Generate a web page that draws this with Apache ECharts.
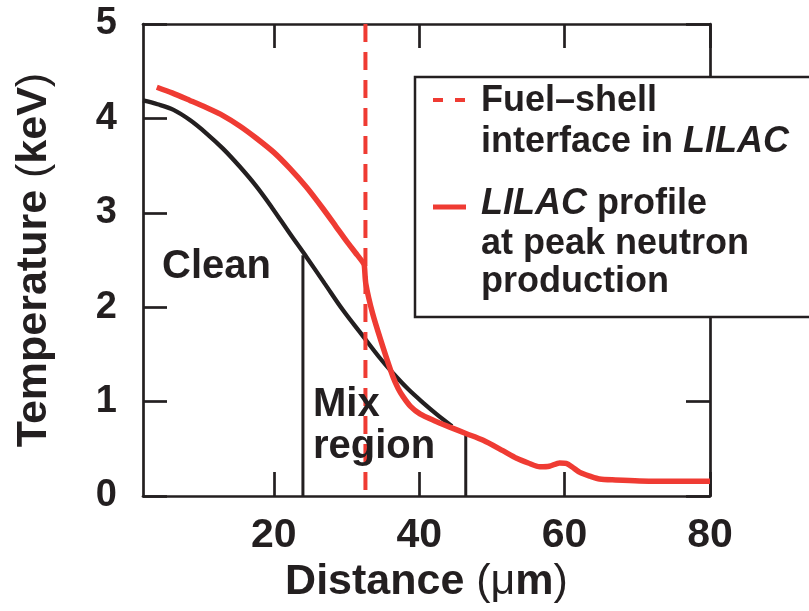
<!DOCTYPE html>
<html>
<head>
<meta charset="utf-8">
<script src="https://cdn.jsdelivr.net/npm/echarts@6/dist/echarts.min.js"></script>
<style>
  html, body { margin: 0; padding: 0; background: #fff; }
  #chart { width: 809px; height: 611px; }
</style>
</head>
<body>
<div id="chart"></div>
<script>
// Clean (unmixed) temperature profile, keV vs distance in µm
const cleanDistance = [2, 4, 6.2, 8.5, 10.75, 13, 15.3, 17.6, 19.7, 22.2, 24.5, 27, 29.5, 32, 34.5, 36.4, 38.5, 40.5, 42.5, 44.5];
const cleanTemp     = [4.19, 4.15, 4.09, 3.98, 3.84, 3.68, 3.49, 3.28, 3.06, 2.78, 2.53, 2.25, 1.97, 1.72, 1.47, 1.30, 1.13, 0.99, 0.86, 0.74];

// LILAC profile at peak neutron production
const lilacDistance = [3.9, 6, 8.45, 10.7, 13.0, 15.3, 17.6, 20, 22.2, 24.5, 26.8, 28.5, 30.0, 31.2, 32.3, 32.45, 32.65, 33.6, 35.0, 36.4, 37.1, 37.8, 38.8, 40.1, 42.0, 44.2, 46.5, 48.8, 51.5, 53.4, 55.0, 56.6, 57.9, 59.3, 60.2, 61.0, 62.1, 63.5, 64.8, 67, 70.3, 75, 80];
const lilacTemp     = [4.33, 4.27, 4.19, 4.115, 4.03, 3.92, 3.79, 3.64, 3.47, 3.27, 3.04, 2.86, 2.70, 2.58, 2.47, 2.44, 2.25, 1.93, 1.58, 1.26, 1.14, 1.05, 0.95, 0.87, 0.80, 0.73, 0.66, 0.59, 0.48, 0.40, 0.35, 0.31, 0.315, 0.35, 0.345, 0.31, 0.25, 0.21, 0.18, 0.17, 0.16, 0.155, 0.155];

// Fuel–shell interface position and the mix-region boundaries
const interfaceDistance = 32.6;
const mixBoundDistance  = [24.0, 46.4];
const mixBoundTop       = [2.55, 0.66];

// Axis ranges and ticks
const xRange = [2, 80];
const xTicks = [20, 40, 60, 80];
const yRange = [0, 5];
const yStep  = 1;

const INK = '#231f20';
const RED = '#ef3b33';
const FONT = '"Liberation Sans", Arial, Helvetica, sans-serif';

const zip = (xs, ys) => xs.map((x, i) => [x, ys[i]]);

const chart = echarts.init(document.getElementById('chart'), null, { renderer: 'canvas' });

const frameAxisLine = { show: true, onZero: false, lineStyle: { color: INK, width: 2.7 } };
const innerTick = { show: true, inside: true, length: 24, lineStyle: { color: INK, width: 2.7 } };

const mixSeries = mixBoundDistance.map((d, i) => ({
  type: 'line',
  data: [[d, 0], [d, mixBoundTop[i]]],
  showSymbol: false,
  lineStyle: { color: INK, width: 3 },
  z: 3
}));

chart.setOption({
  animation: false,
  backgroundColor: '#fff',
  grid: { left: 143, right: 99, top: 24, bottom: 115, containLabel: false, outerBoundsMode: 'none' },
  xAxis: [
    {
      type: 'value', min: xRange[0], max: xRange[1], position: 'bottom',
      axisLine: frameAxisLine,
      axisTick: Object.assign({}, innerTick, { customValues: xTicks }),
      axisLabel: {
        customValues: xTicks, margin: 19,
        color: INK, fontSize: 41, fontWeight: 'bold', fontFamily: FONT
      },
      splitLine: { show: false },
      name: 'Distance {l|(}{l|μ}m{l|)}',
      nameLocation: 'middle', nameGap: 54,
      nameTextStyle: {
        color: INK, fontSize: 43, fontWeight: 'bold', fontFamily: FONT,
        rich: { l: { fontSize: 43, fontWeight: 'normal', fontFamily: FONT, color: INK } }
      }
    },
    {
      type: 'value', min: xRange[0], max: xRange[1], position: 'top',
      axisLine: frameAxisLine,
      axisTick: Object.assign({}, innerTick, { customValues: xTicks }),
      axisLabel: { show: false },
      splitLine: { show: false }
    }
  ],
  yAxis: [
    {
      type: 'value', min: yRange[0], max: yRange[1], interval: yStep, position: 'left',
      axisLine: frameAxisLine,
      axisTick: innerTick,
      axisLabel: {
        margin: 26, color: INK, fontSize: 38, fontWeight: 'bold', fontFamily: FONT
      },
      splitLine: { show: false },
      name: 'Temperature {l|(}keV{l|)}',
      nameLocation: 'middle', nameGap: 87, nameRotate: 90,
      nameTextStyle: {
        color: INK, fontSize: 43, fontWeight: 'bold', fontFamily: FONT,
        rich: { l: { fontSize: 43, fontWeight: 'normal', fontFamily: FONT, color: INK } }
      }
    },
    {
      type: 'value', min: yRange[0], max: yRange[1], interval: yStep, position: 'right',
      axisLine: frameAxisLine,
      axisTick: innerTick,
      axisLabel: { show: false },
      splitLine: { show: false }
    }
  ],
  series: [
    ...mixSeries,
    {
      name: 'Clean',
      type: 'line',
      data: zip(cleanDistance, cleanTemp),
      smooth: 0.35,
      showSymbol: false,
      lineStyle: { color: INK, width: 4.3 },
      z: 4
    },
    {
      name: 'Fuel–shell interface in LILAC',
      type: 'line',
      data: [[interfaceDistance, yRange[1]], [interfaceDistance, yRange[0]]],
      showSymbol: false,
      lineStyle: { color: RED, width: 4, type: [18, 10] },
      z: 5
    },
    {
      name: 'LILAC profile at peak neutron production',
      type: 'line',
      data: zip(lilacDistance, lilacTemp),
      smooth: 0.25,
      showSymbol: false,
      lineStyle: { color: RED, width: 5.5 },
      z: 6
    }
  ],
  graphic: [
    // region labels
    { type: 'text', z: 50, style: { text: 'Clean', x: 162, y: 267, verticalAlign: 'middle',
      fill: INK, font: 'bold 40px ' + FONT } },
    { type: 'text', z: 50, style: { text: 'Mix', x: 313, y: 405, verticalAlign: 'middle',
      fill: INK, font: 'bold 40px ' + FONT } },
    { type: 'text', z: 50, style: { text: 'region', x: 313, y: 447, verticalAlign: 'middle',
      fill: INK, font: 'bold 40px ' + FONT } },
    // legend box
    { type: 'rect', z: 90, shape: { x: 415, y: 77, width: 420, height: 240 },
      style: { fill: '#fff', stroke: INK, lineWidth: 2.5 } },
    { type: 'line', z: 91, shape: { x1: 433, y1: 100, x2: 466, y2: 100 },
      style: { stroke: RED, lineWidth: 4, lineDash: [10, 12] } },
    { type: 'line', z: 91, shape: { x1: 433, y1: 207, x2: 466, y2: 207 },
      style: { stroke: RED, lineWidth: 5 } },
    { type: 'text', z: 91, style: { text: 'Fuel–shell', x: 481, y: 101, verticalAlign: 'middle',
      fill: INK, font: 'bold 36px ' + FONT } },
    { type: 'text', z: 91, style: { text: 'interface in {i|LILAC}', x: 481, y: 142, verticalAlign: 'middle',
      fill: INK, font: 'bold 36px ' + FONT,
      rich: { i: { fontStyle: 'italic', fontWeight: 'bold', fontSize: 36, fontFamily: FONT, fill: INK } } } },
    { type: 'text', z: 91, style: { text: '{i|LILAC} profile', x: 481, y: 204, verticalAlign: 'middle',
      fill: INK, font: 'bold 36px ' + FONT,
      rich: { i: { fontStyle: 'italic', fontWeight: 'bold', fontSize: 36, fontFamily: FONT, fill: INK } } } },
    { type: 'text', z: 91, style: { text: 'at peak neutron', x: 481, y: 244, verticalAlign: 'middle',
      fill: INK, font: 'bold 36px ' + FONT } },
    { type: 'text', z: 91, style: { text: 'production', x: 481, y: 282, verticalAlign: 'middle',
      fill: INK, font: 'bold 36px ' + FONT } }
  ]
});
</script>
</body>
</html>
